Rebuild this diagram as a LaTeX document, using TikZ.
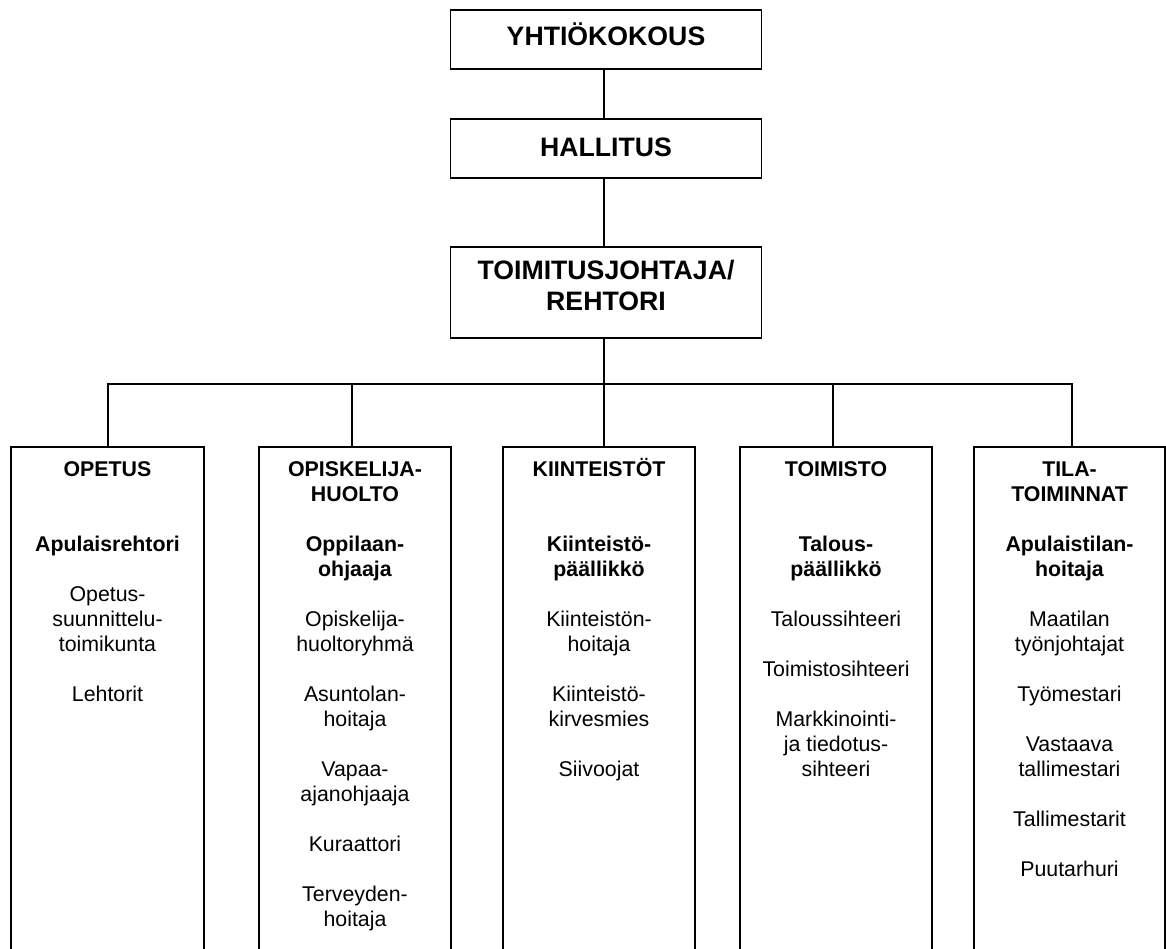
\documentclass[tikz,border=0pt]{standalone}
\usepackage{fontspec}
\setmainfont{Liberation Sans}
\tikzset{
  topbox/.style={draw, rectangle, line width=1.8pt, minimum width=311pt, inner sep=0pt},
  colbox/.style={draw, rectangle, line width=1.8pt, minimum height=620pt, inner sep=0pt, anchor=north},
  conn/.style={line width=1.3pt},
  toptext/.style={font=\fontsize{26.67}{30.7}\selectfont\bfseries, inner sep=0pt, align=center},
  coltext/.style={font=\fontsize{21.33}{25}\selectfont, inner sep=0pt, align=center, anchor=north},
}
\newcommand\fstrut{\vrule height 20pt depth 0pt width 0pt}
\newcommand\tstrut{\vrule height 26pt depth 0pt width 0pt}
\begin{document}
\begin{tikzpicture}[x=1pt,y=-1pt]
\useasboundingbox (0,0) rectangle (1166,949);
\fill[white] (0,0) rectangle (1166,949);
% top boxes
\node[topbox, minimum height=59pt] (yk) at (606,39.5) {};
\node[topbox, minimum height=59pt] (hal) at (606,148.5) {};
\node[topbox, minimum height=91pt] (ceo) at (606,292.5) {};
\node[toptext, anchor=base] (ykt) at (606,45.5) {YHTIÖKOKOUS};
\node[toptext, anchor=base] (halt) at (606,156.5) {HALLITUS};
\node[toptext, anchor=north] (ceot) at (606,253.5) {\tstrut TOIMITUSJOHTAJA/\\REHTORI};
% column boxes
\node[colbox, minimum width=193pt] (c1) at (107.5,446) {};
\node[colbox, minimum width=192pt] (c2) at (355,446) {};
\node[colbox, minimum width=192pt] (c3) at (599,446) {};
\node[colbox, minimum width=192pt] (c4) at (836,446) {};
\node[colbox, minimum width=191pt] (c5) at (1069.5,446) {};
% connectors
\coordinate (d1) at (108,384);
\coordinate (d2) at (352,384);
\coordinate (d3) at (604,384);
\coordinate (d4) at (833,384);
\coordinate (d5) at (1072,384);
\draw[conn] (yk.south -| d3) -- (hal.north -| d3);
\draw[conn] (hal.south -| d3) -- (ceo.north -| d3);
\draw[conn] (ceo.south -| d3) -- (d3);
\draw[conn] (c1.north -| d1) -- (d1) -- (d5) -- (c5.north -| d5);
\draw[conn] (d2) -- (c2.north -| d2);
\draw[conn] (d3) -- (c3.north -| d3);
\draw[conn] (d4) -- (c4.north -| d4);
% column texts
\node[coltext] (t1) at (107.5,456.6) {\fstrut\textbf{OPETUS}\\[50pt]\textbf{Apulaisrehtori}\\[25pt]Opetus-\\suunnittelu-\\toimikunta\\[25pt]Lehtorit};
\node[coltext] (t2) at (355,456.6) {\fstrut\textbf{OPISKELIJA-}\\\textbf{HUOLTO}\\[25pt]\textbf{Oppilaan-}\\\textbf{ohjaaja}\\[25pt]Opiskelija-\\huoltoryhmä\\[25pt]Asuntolan-\\hoitaja\\[25pt]Vapaa-\\ajanohjaaja\\[25pt]Kuraattori\\[25pt]Terveyden-\\hoitaja};
\node[coltext] (t3) at (599,456.6) {\fstrut\textbf{KIINTEISTÖT}\\[50pt]\textbf{Kiinteistö-}\\\textbf{päällikkö}\\[25pt]Kiinteistön-\\hoitaja\\[25pt]Kiinteistö-\\kirvesmies\\[25pt]Siivoojat};
\node[coltext] (t4) at (836,456.6) {\fstrut\textbf{TOIMISTO}\\[50pt]\textbf{Talous-}\\\textbf{päällikkö}\\[25pt]Taloussihteeri\\[25pt]Toimistosihteeri\\[25pt]Markkinointi-\\ja tiedotus-\\sihteeri};
\node[coltext] (t5) at (1069.5,456.6) {\fstrut\textbf{TILA-}\\\textbf{TOIMINNAT}\\[25pt]\textbf{Apulaistilan-}\\\textbf{hoitaja}\\[25pt]Maatilan\\työnjohtajat\\[25pt]Työmestari\\[25pt]Vastaava\\tallimestari\\[25pt]Tallimestarit\\[25pt]Puutarhuri};
\end{tikzpicture}
\end{document}
